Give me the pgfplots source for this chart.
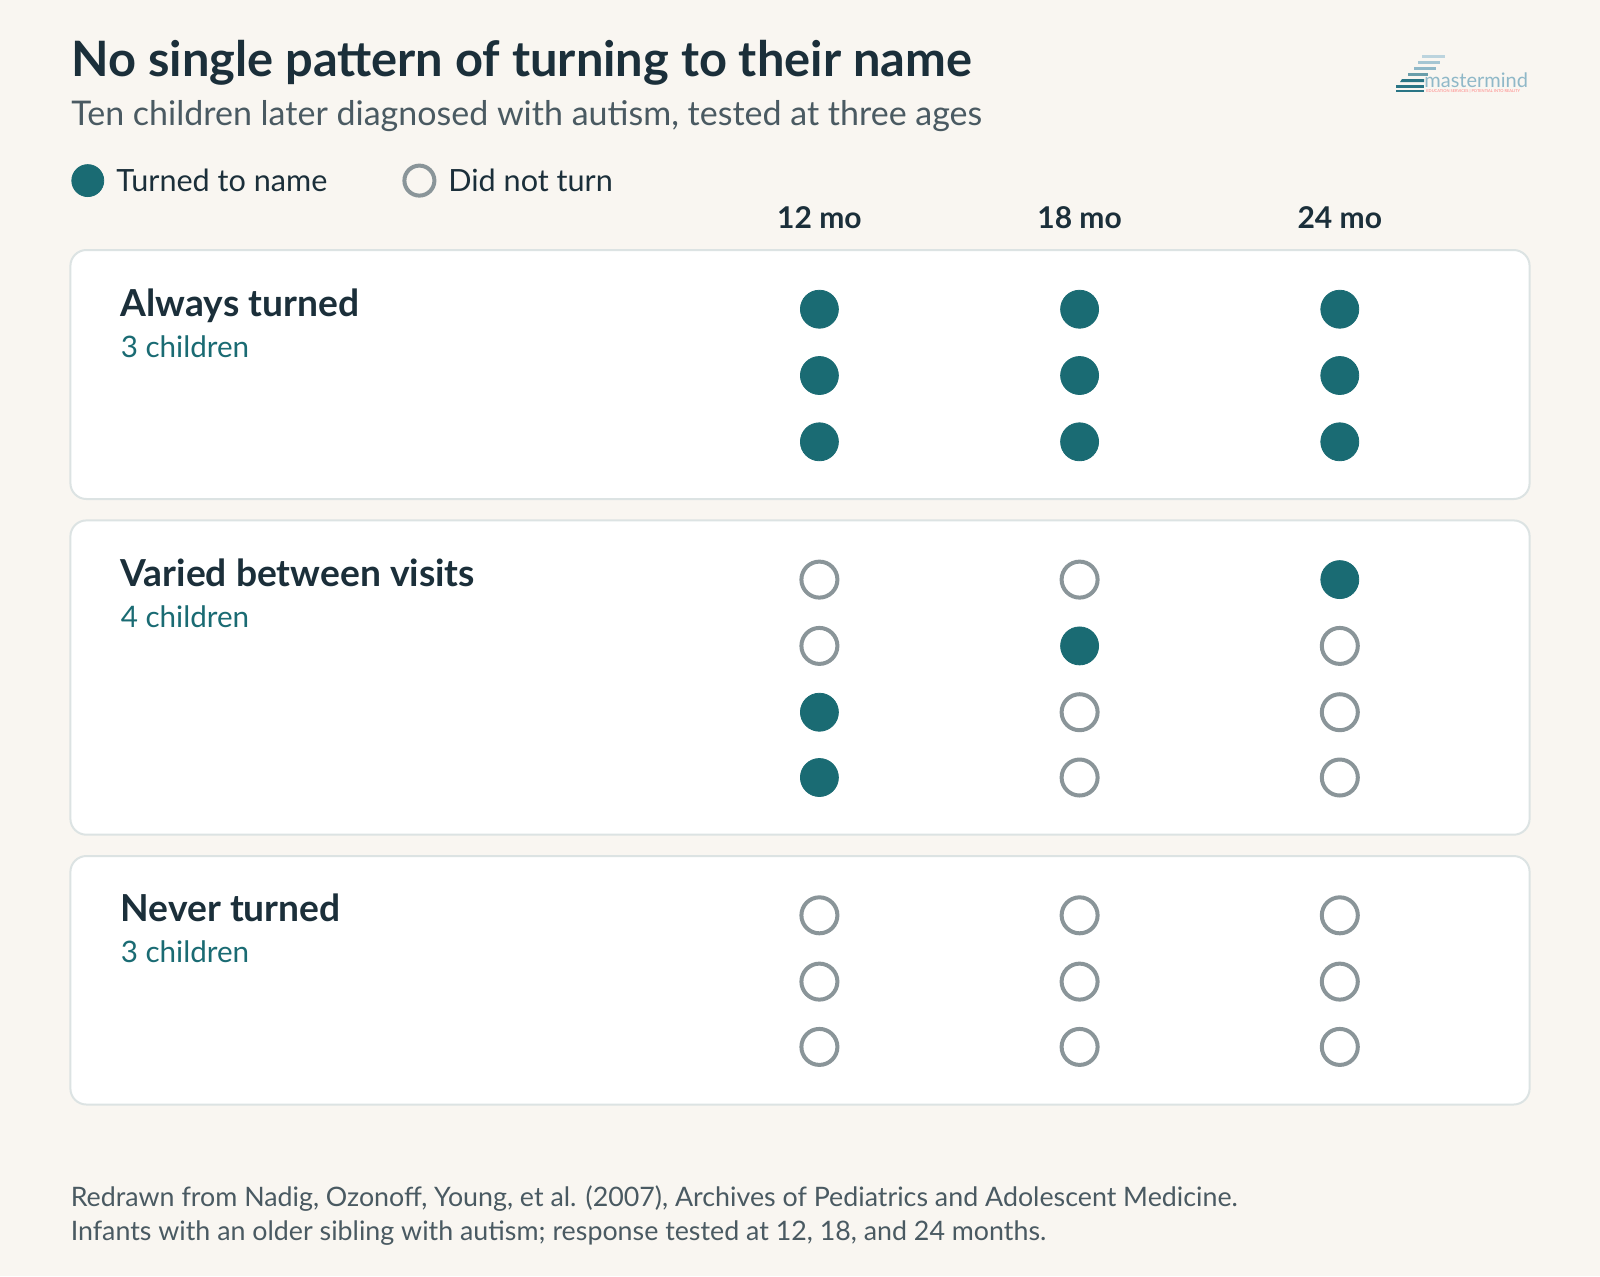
\documentclass[border=0pt]{standalone}
\usepackage{fontspec}
\setmainfont{Lato}
\usepackage{pgfplots}
\pgfplotsset{compat=1.18}
\definecolor{bgc}{HTML}{F9F6F1}
\definecolor{teal}{HTML}{1A6B73}
\definecolor{dark}{HTML}{1B2F3A}
\definecolor{subg}{HTML}{4A5A62}
\definecolor{ring}{HTML}{8A9599}
\definecolor{pborder}{HTML}{DCE3E3}
\definecolor{logob}{HTML}{8FB8C8}
\definecolor{logod}{HTML}{2A7585}
\begin{document}
\begin{tikzpicture}
\begin{axis}[
  width=800pt, height=638pt, scale only axis,
  xmin=0, xmax=1600, ymin=0, ymax=1276, y dir=reverse,
  hide axis, clip=false,
]
% background
\fill[bgc] (axis cs:0,0) rectangle (axis cs:1600,1276);
% panels
\draw[rounded corners=8pt, fill=white, draw=pborder, line width=1pt] (axis cs:70.4,250) rectangle (axis cs:1529.6,499);
\draw[rounded corners=8pt, fill=white, draw=pborder, line width=1pt] (axis cs:70.4,520.4) rectangle (axis cs:1529.6,834.7);
\draw[rounded corners=8pt, fill=white, draw=pborder, line width=1pt] (axis cs:70.4,856) rectangle (axis cs:1529.6,1104.5);
% titles
\node[anchor=base west, inner sep=0pt, font=\fontsize{24.4}{30}\selectfont\bfseries, text=dark] at (axis cs:71,76.5) {No single pattern of turning to their name};
\node[anchor=base west, inner sep=0pt, font=\fontsize{17}{20}\selectfont, text=subg] at (axis cs:71,125.5) {Ten children later diagnosed with autism, tested at three ages};
% legend
\addplot[only marks, teal, mark=*, mark size=8pt, mark options={fill=teal, draw=teal}] coordinates {(87.8,180.6)};
\addplot[only marks, ring, mark=o, mark size=7.5pt, mark options={draw=ring, line width=2pt}] coordinates {(419.4,180.6)};
\node[anchor=base west, inner sep=0pt, font=\fontsize{15.3}{18}\selectfont, text=dark] at (axis cs:116,191.5) {Turned to name};
\node[anchor=base west, inner sep=0pt, font=\fontsize{15.3}{18}\selectfont, text=dark] at (axis cs:448,191.5) {Did not turn};
% column headers
\node[anchor=base, inner sep=0pt, font=\fontsize{15}{18}\selectfont\bfseries, text=dark] at (axis cs:819.4,228) {12 mo};
\node[anchor=base, inner sep=0pt, font=\fontsize{15}{18}\selectfont\bfseries, text=dark] at (axis cs:1079.6,228) {18 mo};
\node[anchor=base, inner sep=0pt, font=\fontsize{15}{18}\selectfont\bfseries, text=dark] at (axis cs:1339.8,228) {24 mo};
% group labels
\node[anchor=base west, inner sep=0pt, font=\fontsize{18.6}{22}\selectfont\bfseries, text=dark] at (axis cs:120.4,316) {Always turned};
\node[anchor=base west, inner sep=0pt, font=\fontsize{14.8}{17}\selectfont, text=teal] at (axis cs:120.4,357) {3 children};
\node[anchor=base west, inner sep=0pt, font=\fontsize{18.6}{22}\selectfont\bfseries, text=dark] at (axis cs:120.4,586.5) {Varied between visits};
\node[anchor=base west, inner sep=0pt, font=\fontsize{14.8}{17}\selectfont, text=teal] at (axis cs:120.4,627.5) {4 children};
\node[anchor=base west, inner sep=0pt, font=\fontsize{18.6}{22}\selectfont\bfseries, text=dark] at (axis cs:120.4,921) {Never turned};
\node[anchor=base west, inner sep=0pt, font=\fontsize{14.8}{17}\selectfont, text=teal] at (axis cs:120.4,962) {3 children};
% dots: turned
\addplot[only marks, teal, mark=*, mark size=9.5pt, mark options={fill=teal, draw=teal}] table {
x y
819.4 309.2
1079.6 309.2
1339.8 309.2
819.4 375.5
1079.6 375.5
1339.8 375.5
819.4 441.8
1079.6 441.8
1339.8 441.8
1339.8 579.6
1079.6 645.9
819.4 712.2
819.4 777.5
};
% dots: did not turn
\addplot[only marks, ring, mark=o, mark size=9pt, mark options={draw=ring, line width=2pt}] table {
x y
819.4 579.6
1079.6 579.6
819.4 645.9
1339.8 645.9
1079.6 712.2
1339.8 712.2
1079.6 777.5
1339.8 777.5
819.4 915.3
1079.6 915.3
1339.8 915.3
819.4 981.6
1079.6 981.6
1339.8 981.6
819.4 1046.9
1079.6 1046.9
1339.8 1046.9
};
% footer
\node[anchor=base west, inner sep=0pt, font=\fontsize{13.4}{16}\selectfont, text=subg] at (axis cs:70.4,1206) {Redrawn from Nadig, Ozonoff, Young, et al. (2007), Archives of Pediatrics and Adolescent Medicine.};
\node[anchor=base west, inner sep=0pt, font=\fontsize{13.4}{16}\selectfont, text=subg] at (axis cs:70.4,1240) {Infants with an older sibling with autism; response tested at 12, 18, and 24 months.};
% logo
\fill[logob!60] (axis cs:1422,55) rectangle (axis cs:1445,58);
\fill[logob!80] (axis cs:1418,61) rectangle (axis cs:1440,64);
\fill[logob] (axis cs:1414,67) rectangle (axis cs:1436,70);
\fill[logod!70] (axis cs:1408,73) rectangle (axis cs:1428,76);
\fill[logod] (axis cs:1402,79) -- (axis cs:1424,79) -- (axis cs:1424,82) -- (axis cs:1400,82) -- cycle;
\fill[logod] (axis cs:1396,85) rectangle (axis cs:1424,88);
\fill[logod] (axis cs:1396,90) rectangle (axis cs:1424,92);
\node[anchor=base west, inner sep=0pt, font=\fontsize{10}{12}\selectfont, text=logob] at (axis cs:1424,87) {mastermind};
\node[anchor=base west, inner sep=0pt, font=\fontsize{2}{2}\selectfont, text=red!50] at (axis cs:1426,92) {EDUCATION SERVICES | POTENTIAL INTO REALITY};
\end{axis}
\end{tikzpicture}
\end{document}
